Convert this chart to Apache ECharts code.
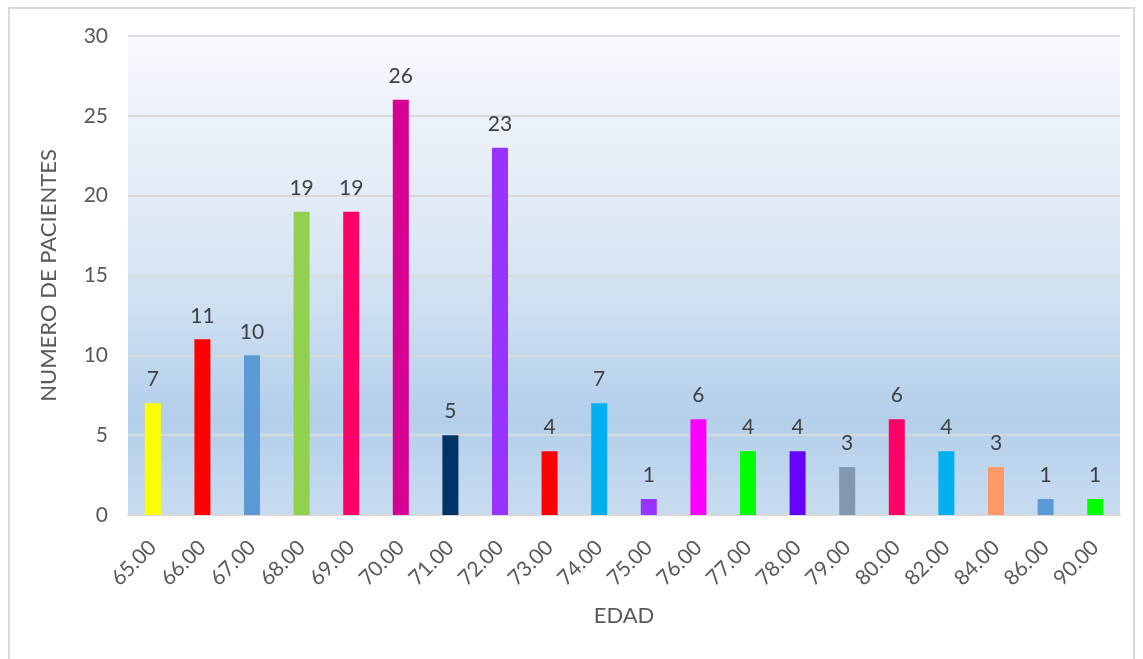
<!DOCTYPE html>
<html>
<head>
<meta charset="utf-8">
<script src="https://cdn.jsdelivr.net/npm/echarts@6/dist/echarts.min.js"></script>
<style>
  html, body { margin: 0; padding: 0; background: #ffffff; }
  #frame { position: absolute; left: 8px; top: 7px; width: 1127px; height: 660px; border: 2px solid #d9d9d9; box-sizing: border-box; }
  #chart { position: absolute; left: 0; top: 0; width: 1143px; height: 659px; }
</style>
</head>
<body>
<div id="frame"></div>
<div id="chart"></div>
<script>
// Ages (x axis) and number of patients per age
const edades = ['65.00','66.00','67.00','68.00','69.00','70.00','71.00','72.00','73.00','74.00',
                '75.00','76.00','77.00','78.00','79.00','80.00','82.00','84.00','86.00','90.00'];
const pacientes = [7, 11, 10, 19, 19, 26, 5, 23, 4, 7, 1, 6, 4, 4, 3, 6, 4, 3, 1, 1];
const coloresBarras = ['#ffff00','#ff0000','#5b9bd5','#92d050','#ff0066','#d60093','#003366','#9933ff','#ff0000','#00b0f0',
                       '#9933ff','#ff00ff','#00ff00','#6600ff','#8497b0','#ff0066','#00b0f0','#ff9966','#5b9bd5','#00ff00'];
const ticksY = [0, 5, 10, 15, 20, 25, 30];

const fontFam = 'Lato, "Open Sans", sans-serif';
const chart = echarts.init(document.getElementById('chart'), null, { renderer: 'canvas' });

chart.setOption({
  animation: false,
  backgroundColor: 'transparent',
  grid: {
    left: 128, right: 23, top: 36, bottom: 144,
    show: true,
    borderWidth: 0,
    backgroundColor: new echarts.graphic.LinearGradient(0, 0, 0, 1, [
      { offset: 0, color: '#f7f9fd' },
      { offset: 0.45, color: '#dbe7f5' },
      { offset: 0.8, color: '#b3cfea' },
      { offset: 1, color: '#c8dcf0' }
    ])
  },
  xAxis: {
    type: 'category',
    data: edades,
    name: 'EDAD',
    nameLocation: 'middle',
    nameGap: 90,
    nameTextStyle: { fontFamily: fontFam, fontSize: 22, color: '#595959' },
    axisLine: { lineStyle: { color: '#d9d9d9', width: 2 } },
    axisTick: { show: false },
    axisLabel: {
      rotate: 45, interval: 0, margin: 29,
      fontFamily: fontFam, fontSize: 21, color: '#595959'
    }
  },
  yAxis: {
    type: 'value',
    min: ticksY[0], max: ticksY[ticksY.length - 1], interval: 5,
    name: 'NUMERO DE PACIENTES',
    nameLocation: 'middle',
    nameGap: 68,
    nameTextStyle: { fontFamily: fontFam, fontSize: 22, color: '#595959' },
    axisLine: { show: false },
    axisTick: { show: false },
    axisLabel: { margin: 20, fontFamily: fontFam, fontSize: 21, color: '#595959' },
    splitLine: { lineStyle: { color: '#d9d9d9', width: 2 } }
  },
  series: [{
    type: 'bar',
    barWidth: 16,
    data: pacientes.map((v, i) => ({ value: v, itemStyle: { color: coloresBarras[i] } })),
    label: {
      show: true, position: 'top', distance: 13,
      fontFamily: fontFam, fontSize: 21, color: '#404040'
    }
  }]
});
</script>
</body>
</html>
